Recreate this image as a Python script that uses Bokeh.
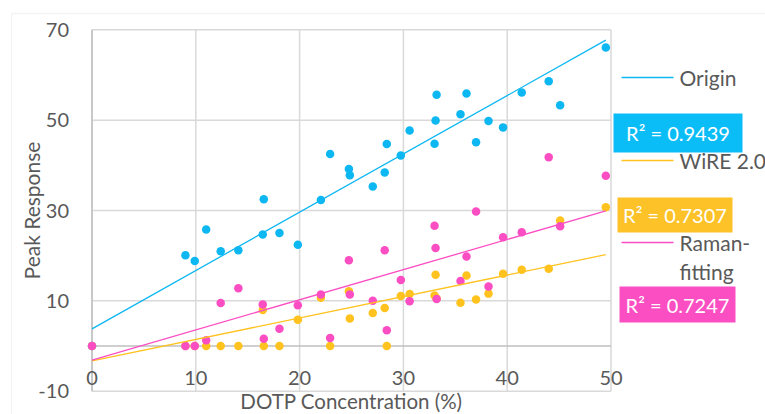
import math
from bokeh.plotting import figure
from bokeh.models import (ColumnDataSource, Label, LabelSet, BoxAnnotation, Range1d)
from bokeh.core.properties import value
from bokeh.embed import file_html
from bokeh.resources import INLINE

# ---------------- data ----------------
concentration = [0, 9.0, 9.9, 11.0, 12.4, 14.1, 16.45, 16.55, 18.06, 19.83, 22.05,
                 22.94, 24.75, 24.84, 27.05, 28.2, 28.4, 29.75, 30.6, 33.0, 33.1,
                 33.2, 35.5, 36.08, 37.0, 38.2, 39.6, 41.4, 44.0, 45.1, 49.5]
origin = [0, 20.1, 18.8, 25.8, 21.0, 21.2, 24.7, 32.5, 25.0, 22.4, 32.3,
          42.5, 39.2, 37.8, 35.3, 38.4, 44.7, 42.2, 47.7, 44.8, 49.9,
          55.6, 51.3, 55.9, 45.1, 49.8, 48.4, 56.1, 58.6, 53.3, 66.1]
wire = [0, 0, 0, 0, 0, 0, 8.0, 0, 0, 5.8, 10.7,
        0, 12.1, 6.1, 7.3, 8.4, 0, 11.1, 11.5, 11.2, 15.8,
        10.5, 9.6, 15.6, 10.3, 11.6, 16.0, 16.9, 17.1, 27.8, 30.7]
raman = [0, 0, 0, 1.3, 9.5, 12.8, 9.2, 1.6, 3.8, 9.0, 11.4,
         1.8, 19.0, 11.4, 10.0, 21.2, 3.5, 14.6, 9.9, 26.6, 21.7,
         10.4, 14.4, 19.8, 29.8, 13.2, 24.1, 25.2, 41.8, 26.5, 37.7]

# linear trendlines as shown in the reference: (slope, intercept)
origin_trend = (1.291, 3.8)
wire_trend = (0.475, -3.3)
raman_trend = (0.667, -3.1)

legend_labels = ["Origin", "WiRE 2.0", "Raman-", "fitting"]
r2_labels = ["R\u00b2 = 0.9439", "R\u00b2 = 0.7307", "R\u00b2 = 0.7247"]
x_ticks = [0, 10, 20, 30, 40, 50]
y_ticks = [-10, 10, 30, 50, 70]
x_title = "DOTP Concentration (%)"
y_title = "Peak Response"

# ---------------- style / layout ----------------
BLUE, GOLD, PINK = "#0DB7F2", "#FFC21F", "#FB4EC3"
BOX_BLUE, BOX_GOLD, BOX_PINK = "#0BBDF7", "#FCC227", "#FB4EC3"
TXT = "#595959"
GRID = "#D9D9D9"
AXIS = "#BFBFBF"
FONT = "Lato"
W, H = 765, 414
FL, FR, FT, FB = 91.5, 610.5, 29.3, 390.7   # plot area edges in px
X0, X1, Y0, Y1 = 0, 50, -10, 70
SX = (FR - FL) / (X1 - X0)
SY = (FB - FT) / (Y1 - Y0)

def dx(px):
    return X0 + (px - FL) / SX

def dy(py):
    return Y0 + (FB - py) / SY

p = figure(width=W, height=H, output_backend="svg", toolbar_location=None,
           x_range=Range1d(dx(0), dx(W)), y_range=Range1d(dy(H), dy(0)),
           min_border=0)
p.axis.visible = False
p.grid.visible = False
p.outline_line_color = None
p.background_fill_color = "white"
p.border_fill_color = "white"

# chart border
p.add_layout(BoxAnnotation(left=dx(11), right=dx(W + 40), top=dy(13), bottom=dy(H + 40),
                           fill_color=None, line_color=GRID, line_width=1.3))

# gridlines
p.segment(x0=x_ticks, x1=x_ticks, y0=[Y0] * len(x_ticks), y1=[Y1] * len(x_ticks),
          line_color=GRID, line_width=1.5)
p.segment(x0=[X0] * len(y_ticks), x1=[X1] * len(y_ticks), y0=y_ticks, y1=y_ticks,
          line_color=GRID, line_width=1.5)
# axis lines
p.segment(x0=[0, X0], x1=[0, X1], y0=[Y0, 0], y1=[Y1, 0], line_color=AXIS, line_width=1.5)

# tick labels
ysrc = ColumnDataSource(dict(x=[X0] * len(y_ticks), y=y_ticks, t=[str(v) for v in y_ticks]))
p.add_layout(LabelSet(x="x", y="y", text="t", source=ysrc, x_offset=-23,
                      text_align="right", text_baseline="middle",
                      text_font=value(FONT), text_font_size=value("20px"),
                      text_color=TXT))
xsrc = ColumnDataSource(dict(x=x_ticks, y=[dy(377)] * len(x_ticks), t=[str(v) for v in x_ticks]))
p.add_layout(LabelSet(x="x", y="y", text="t", source=xsrc,
                      text_align="center", text_baseline="middle",
                      text_font=value(FONT), text_font_size=value("20px"),
                      text_color=TXT))

# axis titles
p.add_layout(Label(x=(X0 + X1) / 2, y=dy(400), text=x_title, text_align="center",
                   text_baseline="middle", text_font=FONT, text_font_size="20.5px",
                   text_color=TXT))
p.add_layout(Label(x=dx(31), y=(Y0 + Y1) / 2, text=y_title, angle=math.pi / 2,
                   text_align="center", text_baseline="middle", text_font=FONT,
                   text_font_size="21px", text_color=TXT))

# points
colors = [BLUE, GOLD, PINK]
ys = [origin, wire, raman]
for yv, c in zip(ys, colors):
    p.scatter(concentration, yv, size=8.5, color=c, line_color=None)

# trendlines over the data extent
xl = [min(concentration), max(concentration)]
for (k, b), c in zip([origin_trend, wire_trend, raman_trend], colors):
    p.line(xl, [b + k * v for v in xl], line_color=c, line_width=1.3)

# legend (line samples + labels)
leg_y = [77, 160, 242]
for py, c, lab in zip(leg_y, colors, legend_labels[:3]):
    p.line([dx(621), dx(673)], [dy(py), dy(py)], line_color=c, line_width=1.5)
    p.add_layout(Label(x=dx(679), y=dy(py), text=lab, text_baseline="middle",
                       text_font=FONT, text_font_size="21px", text_color=TXT))
p.add_layout(Label(x=dx(679), y=dy(271), text=legend_labels[3], text_baseline="middle",
                   text_font=FONT, text_font_size="21px", text_color=TXT))

# R² boxes
box_pos = [(613, 742, 113, 152), (617, 732, 197, 232), (619, 735, 286, 322)]
for (l, r, t, b), txt, c in zip(box_pos, r2_labels, [BOX_BLUE, BOX_GOLD, BOX_PINK]):
    p.add_layout(BoxAnnotation(left=dx(l), right=dx(r), top=dy(t), bottom=dy(b),
                               fill_color=c, fill_alpha=1, line_color=None))
    p.add_layout(Label(x=dx((l + r) / 2), y=dy((t + b) / 2), text=txt,
                       text_align="center", text_baseline="middle", text_font=FONT,
                       text_font_size="20px", text_color="white"))

open("out.html", "w").write(file_html(p, INLINE))
